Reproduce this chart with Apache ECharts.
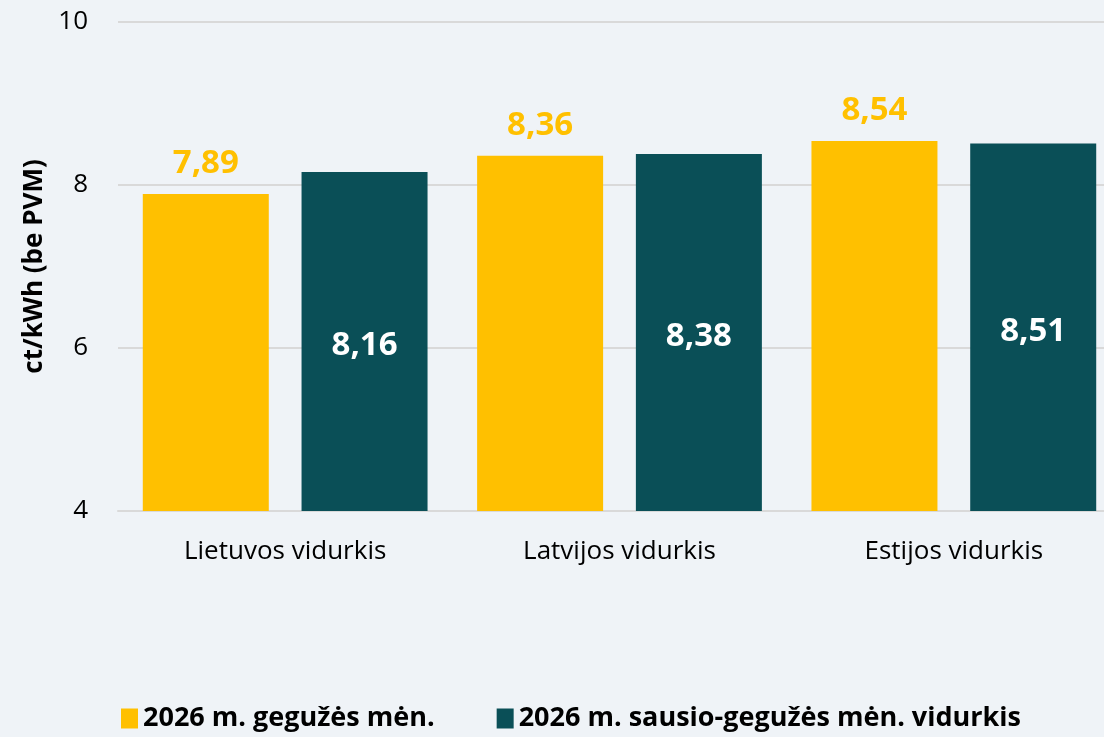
<!DOCTYPE html>
<html>
<head>
<meta charset="utf-8">
<script src="https://cdn.jsdelivr.net/npm/echarts@6/dist/echarts.min.js"></script>
<style>
  html, body { margin: 0; padding: 0; background: #eff3f7; }
  #chart { width: 1104px; height: 737px; }
</style>
</head>
<body>
<div id="chart"></div>
<script>
  // values
  var categories = ['Lietuvos vidurkis', 'Latvijos vidurkis', 'Estijos vidurkis']
  var seriesNames = ['2026 m. gegužės mėn.', '2026 m. sausio-gegužės mėn. vidurkis']
  var mayValues = [7.89, 8.36, 8.54]
  var avgValues = [8.16, 8.38, 8.51]
  var yTicks = [4, 6, 8, 10]

  var fontFamily = '"Open Sans", "Noto Sans", sans-serif'
  var fmt = function (p) { return p.value.toFixed(2).replace('.', ',') }

  var chart = echarts.init(document.getElementById('chart'))
  chart.setOption({
    backgroundColor: '#eff3f7',
    textStyle: { fontFamily: fontFamily },
    grid: {
      left: 118,
      top: 22,
      right: -17,
      height: 489,
      outerBoundsMode: 'none',
    },
    legend: {
      left: 116,
      bottom: 0,
      itemWidth: 17,
      itemHeight: 20,
      itemGap: 62,
      icon: 'rect',
      textStyle: {
        fontFamily: fontFamily,
        fontSize: 27,
        fontWeight: 'bold',
        color: '#000',
      },
      data: seriesNames,
    },
    xAxis: {
      type: 'category',
      data: categories,
      axisTick: { show: false },
      axisLine: { lineStyle: { color: '#d9d9d9', width: 2 } },
      axisLabel: {
        color: '#000',
        fontSize: 26,
        margin: 28,
      },
    },
    yAxis: {
      type: 'value',
      min: yTicks[0],
      max: yTicks[yTicks.length - 1],
      interval: 2,
      name: 'ct/kWh (be PVM)',
      nameLocation: 'middle',
      nameGap: 64,
      nameTextStyle: {
        fontFamily: fontFamily,
        fontSize: 26,
        fontWeight: 'bold',
        color: '#000',
      },
      axisLine: { show: false },
      axisTick: { show: false },
      splitLine: { lineStyle: { color: '#d9d9d9', width: 2 } },
      axisLabel: {
        color: '#000',
        fontSize: 26,
        margin: 30,
      },
    },
    series: [
      {
        name: seriesNames[0],
        type: 'bar',
        barWidth: 126,
        barGap: '26%',
        itemStyle: { color: '#ffc000' },
        label: {
          show: true,
          position: 'top',
          distance: 14,
          formatter: fmt,
          color: '#ffc000',
          fontSize: 33,
          fontWeight: 'bold',
        },
        data: mayValues,
      },
      {
        name: seriesNames[1],
        type: 'bar',
        barWidth: 126,
        itemStyle: { color: '#0a4f57' },
        label: {
          show: true,
          position: 'inside',
          offset: [0, 4],
          formatter: fmt,
          color: '#fff',
          fontSize: 33,
          fontWeight: 'bold',
        },
        data: avgValues,
      },
    ],
  })
</script>
</body>
</html>
